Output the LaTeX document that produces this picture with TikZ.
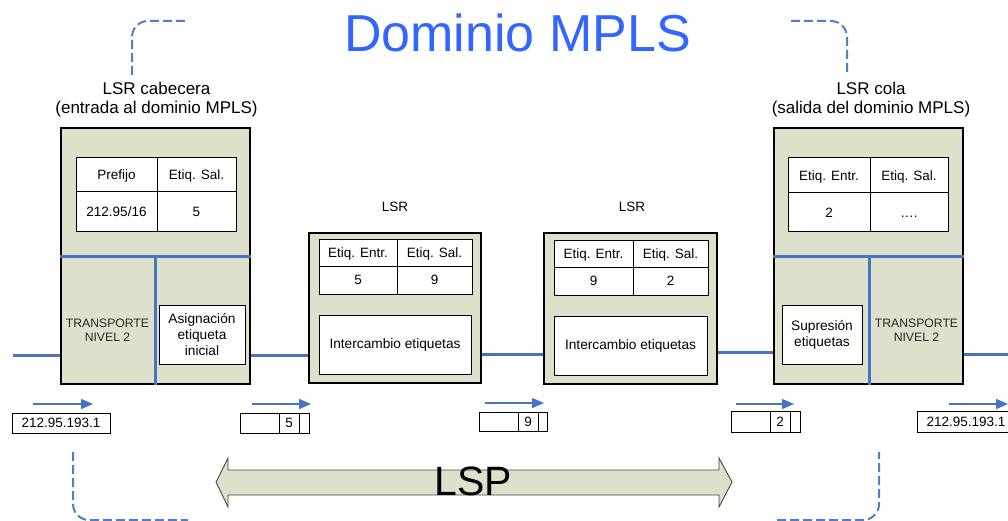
\documentclass[tikz,border=0pt]{standalone}
\usepackage{fontspec}
\setmainfont{Liberation Sans}
\usetikzlibrary{arrows.meta}
\definecolor{boxfill}{RGB}{221,224,203}
\definecolor{linkblue}{RGB}{70,115,196}
\definecolor{dashblue}{RGB}{79,127,200}
\definecolor{titleblue}{RGB}{51,102,255}
\definecolor{darktext}{RGB}{40,40,40}
\definecolor{arrowedge}{RGB}{70,70,70}

\begin{document}
\begin{tikzpicture}[x=1pt,y=-1pt,
  routerbox/.style={draw=black, line width=1.6pt, fill=boxfill, inner sep=0pt},
  tablecell/.style={draw=black, line width=1pt, fill=white, inner sep=0pt,
    font=\fontsize{13.5}{16}\selectfont, text height=9.7pt, text depth=0pt},
  funcbox/.style={draw=black, line width=1pt, fill=white, inner sep=0pt, align=center,
    font=\fontsize{13.7}{16.2}\selectfont},
  layertext/.style={inner sep=0pt, align=center, text=darktext,
    font=\fontsize{12.2}{13.7}\selectfont},
  routercaption/.style={inner sep=0pt, anchor=base, font=\fontsize{17}{19}\selectfont},
  lsrname/.style={inner sep=0pt, anchor=base, font=\fontsize{13.5}{16}\selectfont},
  packetcell/.style={draw=black, line width=1pt, fill=white, inner sep=0pt,
    font=\fontsize{13.5}{16}\selectfont, text height=9.7pt, text depth=0pt},
  linkline/.style={draw=linkblue, line width=3pt},
  splitline/.style={draw=linkblue, line width=3pt},
  flowarrow/.style={draw=linkblue, line width=1.3pt, -{Triangle[length=12pt,width=10pt]}},
  domainedge/.style={draw=dashblue, line width=2pt, dash pattern=on 9pt off 4pt, rounded corners=16pt},
]
\useasboundingbox (0,0) rectangle (1008,521);

% --- title
\node[inner sep=0pt, anchor=base, text=titleblue, font=\fontsize{52}{60}\selectfont]
  (title) at (517.5,52) {Dominio MPLS};

% --- MPLS domain bracket corners
\coordinate (tl1) at (132,75);  \coordinate (tl2) at (132,21);  \coordinate (tl3) at (188,21);
\coordinate (tr1) at (791,21);  \coordinate (tr2) at (847,21);  \coordinate (tr3) at (847,75);
\coordinate (bl1) at (73,452);  \coordinate (bl2) at (73,520);  \coordinate (bl3) at (188,520);
\coordinate (br1) at (777,520); \coordinate (br2) at (879,520); \coordinate (br3) at (879,452);
\draw[domainedge] (tl1) -- (tl2) -- (tl3);
\draw[domainedge] (tr1) -- (tr2) -- (tr3);
\draw[domainedge] (bl1) -- (bl2) -- (bl3);
\draw[domainedge] (br1) -- (br2) -- (br3);

% --- router captions
\node[routercaption] (headcap1) at (156.5,94.5) {LSR cabecera};
\node[routercaption] (headcap2) at (156.5,114) {(entrada al dominio MPLS)};
\node[routercaption] (tailcap1) at (871,94.5) {LSR cola};
\node[routercaption] (tailcap2) at (871,114) {(salida del dominio MPLS)};
\node[lsrname] (lsr1cap) at (395,212) {LSR};
\node[lsrname] (lsr2cap) at (632,212) {LSR};

% --- link rows
\coordinate (yA) at (0,355);
\coordinate (yB) at (0,354);
\coordinate (yC) at (0,352);
\coordinate (inL) at (13,355);
\coordinate (outR) at (1010,354);

% --- routers
\node[routerbox, minimum width=189pt, minimum height=256pt] (head) at (155.5,256) {};
\node[routerbox, minimum width=172pt, minimum height=150pt] (lsr1) at (395,308) {};
\node[routerbox, minimum width=173pt, minimum height=151pt] (lsr2) at (630.5,308.5) {};
\node[routerbox, minimum width=189pt, minimum height=256pt] (tail) at (868.5,256) {};

\draw[linkline] (inL) -- (head.west |- yA);
\draw[linkline] (head.east |- yA) -- (lsr1.west |- yA);
\draw[linkline] (lsr1.east |- yB) -- (lsr2.west |- yB);
\draw[linkline] (lsr2.east |- yC) -- (tail.west |- yC);
\draw[linkline] (tail.east |- yB) -- (outR);

% --- head router internals
\coordinate (hsplit) at (155,256);
\coordinate (tsplit) at (869,256);
\draw[splitline] (head.west |- hsplit) -- (head.east |- hsplit);
\draw[splitline] (hsplit) -- (hsplit |- head.south);
\node[tablecell, minimum width=81pt, minimum height=34pt] (hp) at (116.5,175) {Prefijo};
\node[tablecell, minimum width=79pt, minimum height=34pt] (hs) at (196.5,175) {Etiq. Sal.};
\node[tablecell, minimum width=81pt, minimum height=40pt] (hpv) at (116.5,212) {212.95/16};
\node[tablecell, minimum width=79pt, minimum height=40pt] (hsv) at (196.5,212) {5};
\node[layertext] (hl2) at (107.5,330.5) {TRANSPORTE\\NIVEL 2};
\node[funcbox, minimum width=86pt, minimum height=59pt] (assign) at (202,334.5) {Asignación\\etiqueta\\inicial};

% --- first LSR
\node[tablecell, minimum width=78pt, minimum height=27pt] (l1e) at (358,252.5) {Etiq. Entr.};
\node[tablecell, minimum width=75pt, minimum height=27pt] (l1s) at (434.5,252.5) {Etiq. Sal.};
\node[tablecell, minimum width=78pt, minimum height=28pt] (l1ev) at (358,280) {5};
\node[tablecell, minimum width=75pt, minimum height=28pt] (l1sv) at (434.5,280) {9};
\node[funcbox, minimum width=152pt, minimum height=59pt] (swap1) at (395,344.5) {Intercambio etiquetas};

% --- second LSR
\node[tablecell, minimum width=79pt, minimum height=27pt] (l2e) at (593.5,253.5) {Etiq. Entr.};
\node[tablecell, minimum width=75pt, minimum height=27pt] (l2s) at (670.5,253.5) {Etiq. Sal.};
\node[tablecell, minimum width=79pt, minimum height=28pt] (l2ev) at (593.5,281) {9};
\node[tablecell, minimum width=75pt, minimum height=28pt] (l2sv) at (670.5,281) {2};
\node[funcbox, minimum width=153pt, minimum height=59pt] (swap2) at (630.5,345.5) {Intercambio etiquetas};

% --- tail router internals
\draw[splitline] (tail.west |- tsplit) -- (tail.east |- tsplit);
\draw[splitline] (tsplit) -- (tsplit |- tail.south);
\node[tablecell, minimum width=82pt, minimum height=35pt] (te) at (829,175.5) {Etiq. Entr.};
\node[tablecell, minimum width=78pt, minimum height=35pt] (ts) at (909,175.5) {Etiq. Sal.};
\node[tablecell, minimum width=82pt, minimum height=39pt] (tev) at (829,212.5) {2};
\node[tablecell, minimum width=78pt, minimum height=39pt] (tsv) at (909,212.5) {\dots.};
\node[funcbox, minimum width=80pt, minimum height=59pt] (pop) at (822,334.5) {Supresión\\etiquetas};
\node[layertext] (tl2) at (916.5,330.5) {TRANSPORTE\\NIVEL 2};

% --- packets travelling along the path
\node[packetcell, minimum width=98pt, minimum height=20pt] (pk1) at (61,423) {212.95.193.1};

\node[packetcell, minimum width=39pt, minimum height=20pt] (pk2a) at (259.5,423) {};
\node[packetcell, minimum width=20pt, minimum height=20pt] (pk2b) at (289,423) {5};
\node[packetcell, minimum width=10pt, minimum height=20pt] (pk2c) at (304,423) {};

\node[packetcell, minimum width=39pt, minimum height=19pt] (pk3a) at (498.5,421.5) {};
\node[packetcell, minimum width=20pt, minimum height=19pt] (pk3b) at (528,421.5) {9};
\node[packetcell, minimum width=9pt, minimum height=19pt] (pk3c) at (542.5,421.5) {};

\node[packetcell, minimum width=39pt, minimum height=21pt] (pk4a) at (750.5,421.5) {};
\node[packetcell, minimum width=20pt, minimum height=21pt] (pk4b) at (780,421.5) {2};
\node[packetcell, minimum width=10pt, minimum height=21pt] (pk4c) at (795,421.5) {};

\node[packetcell, minimum width=98pt, minimum height=21pt] (pk5) at (966,421.5) {212.95.193.1};

% --- direction of travel
\coordinate (f1s) at (33,404);  \coordinate (f1e) at (93,404);
\coordinate (f2s) at (252,404); \coordinate (f2e) at (311,404);
\coordinate (f3s) at (485,403); \coordinate (f3e) at (544,403);
\coordinate (f4s) at (736,404); \coordinate (f4e) at (794,404);
\coordinate (f5s) at (949,404); \coordinate (f5e) at (1008,404);
\draw[flowarrow] (f1s) -- (f1e);
\draw[flowarrow] (f2s) -- (f2e);
\draw[flowarrow] (f3s) -- (f3e);
\draw[flowarrow] (f4s) -- (f4e);
\draw[flowarrow] (f5s) -- (f5e);

% --- label switched path
\filldraw[fill=boxfill, draw=arrowedge, line width=0.9pt]
  (216,482) -- (228,458) -- (228,470) -- (719,470) -- (719,458) -- (732,482)
  -- (719,507) -- (719,495) -- (228,495) -- (228,507) -- cycle;
\node[inner sep=0pt, anchor=base, font=\fontsize{41}{48}\selectfont] (lsp) at (473.5,495) {LSP};
\end{tikzpicture}
\end{document}
